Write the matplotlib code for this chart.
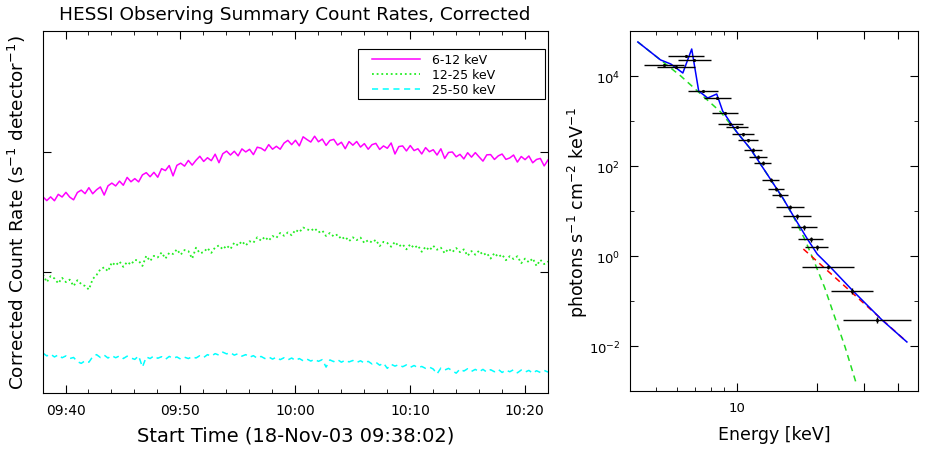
import numpy as np
import pandas as pd
import matplotlib
matplotlib.use("Agg")
import matplotlib.pyplot as plt
import matplotlib.dates as mdates
from matplotlib.patches import Rectangle
from matplotlib.ticker import FixedLocator, FixedFormatter, NullFormatter, NullLocator

# Observing summary count rates, 20 s samples starting 09:38:02
t_start = "2003-11-18 09:38:02"
rate_6_12 = [42.2, 39.3, 42.2, 39.2, 44.3, 42.1, 46.0, 42.0, 39.9, 45.9,
             48.0, 44.9, 50.3, 44.8, 48.3, 51.0, 43.7, 52.1, 54.9, 52.0,
             57.0, 52.7, 61.2, 56.3, 59.8, 56.2, 64.2, 67.0, 62.0, 67.4,
             61.4, 72.3, 69.7, 76.8, 63.0, 77.0, 80.3, 75.9, 84.6, 77.4,
             84.9, 91.6, 83.0, 89.1, 84.2, 95.3, 81.0, 96.1, 101.1, 93.8,
             100.8, 92.3, 105.4, 99.5, 104.6, 94.5, 108.9, 106.9, 101.7, 114.4,
             104.8, 110.8, 104.8, 117.7, 124.1, 114.4, 124.3, 111.7, 132.8, 126.0,
             120.2, 134.3, 120.8, 127.2, 112.7, 123.9, 126.5, 113.5, 119.7, 105.8,
             121.2, 113.2, 121.4, 109.2, 116.6, 104.8, 114.3, 117.2, 104.4, 111.6,
             106.7, 118.0, 95.7, 110.2, 111.6, 101.4, 112.4, 102.1, 105.7, 95.7,
             108.0, 99.9, 103.8, 93.8, 105.6, 87.9, 98.5, 99.4, 90.7, 95.0,
             87.1, 98.0, 90.1, 98.2, 90.4, 83.5, 94.1, 94.6, 86.2, 92.3,
             95.6, 86.3, 88.7, 93.8, 82.0, 91.2, 85.9, 92.1, 80.9, 86.2,
             87.9, 76.2, 85.4]
rate_12_25 = [9.6, 8.3, 9.3, 8.9, 8.1, 9.0, 8.3, 8.7, 7.7, 8.6,
              8.0, 7.7, 7.2, 8.8, 9.5, 10.6, 11.0, 10.2, 12.1, 11.4,
              12.3, 11.1, 12.2, 11.6, 12.7, 12.5, 11.3, 13.7, 12.4, 13.7,
              13.3, 14.6, 13.0, 14.5, 14.2, 15.5, 14.0, 15.3, 15.0, 13.0,
              16.0, 14.4, 14.7, 15.9, 14.5, 16.1, 16.7, 15.5, 16.7, 15.6,
              17.6, 16.7, 18.1, 16.7, 18.1, 17.6, 19.5, 18.3, 19.7, 18.3,
              20.0, 19.3, 21.2, 20.1, 21.4, 20.3, 22.5, 21.5, 23.5, 22.8,
              22.1, 23.2, 21.4, 22.2, 20.0, 21.2, 19.8, 20.6, 18.8, 19.7,
              18.1, 19.5, 18.5, 19.4, 17.5, 18.5, 17.65, 18.6, 16.5, 17.9,
              17.5, 16.3, 17.9, 16.4, 17.1, 15.5, 17.1, 15.9, 16.7, 14.8,
              16.3, 15.2, 16.6, 15.4, 16.0, 14.4, 15.7, 14.7, 15.9, 14.7,
              15.5, 13.7, 15.0, 14.0, 15.15, 13.9, 14.45, 13.0, 14.45, 13.4,
              14.05, 12.6, 13.6, 12.9, 13.6, 11.9, 13.0, 12.1, 13.05, 11.3,
              12.7, 11.7, 12.3]
rate_25_50 = [2.14, 2.03, 2.10, 1.99, 2.07, 1.96, 2.03, 1.93, 1.97, 1.82,
              1.76, 1.85, 1.80, 2.00, 2.08, 1.97, 2.06, 1.95, 2.04, 1.96,
              2.03, 1.93, 2.02, 1.95, 1.90, 2.03, 1.64, 1.99, 1.93, 2.03,
              1.94, 2.00, 1.90, 2.01, 1.94, 1.99, 1.91, 1.98, 1.93, 2.00,
              1.95, 2.04, 1.97, 2.08, 2.02, 2.12, 2.06, 2.18, 2.11, 2.16,
              2.06, 2.12, 2.02, 2.08, 1.98, 2.04, 1.94, 2.01, 1.93, 1.99,
              1.91, 1.98, 1.89, 1.96, 1.88, 1.95, 1.86, 1.93, 1.85, 1.91,
              1.84, 1.90, 1.83, 1.89, 1.64, 1.88, 1.82, 1.89, 1.80, 1.87,
              1.81, 1.86, 1.79, 1.85, 1.77, 1.83, 1.74, 1.80, 1.70, 1.77,
              1.60, 1.73, 1.67, 1.72, 1.65, 1.71, 1.63, 1.69, 1.62, 1.66,
              1.60, 1.64, 1.58, 1.44, 1.61, 1.55, 1.60, 1.53, 1.46, 1.58,
              1.52, 1.59, 1.51, 1.57, 1.50, 1.57, 1.49, 1.56, 1.50, 1.57,
              1.48, 1.55, 1.50, 1.56, 1.47, 1.55, 1.49, 1.54, 1.46, 1.53,
              1.48, 1.54, 1.49]

# Photon spectrum: energy bins (keV) and flux
e_lo = [5.54, 6.03, 4.51, 5.04, 6.57, 7.54, 8.07, 8.50, 9.10, 9.58, 10.09, 10.62, 11.08,
        11.57, 12.49, 13.15, 13.61, 14.08, 14.95, 16.01, 17.0, 18.05, 17.59, 22.56, 25.0]
e_hi = [7.54, 8.01, 6.35, 6.98, 8.50, 9.50, 10.09, 10.53, 10.99, 11.57, 11.97, 12.49, 13.04,
        13.49, 14.45, 15.08, 15.61, 17.89, 19.0, 20.0, 21.06, 21.98, 27.46, 32.3, 44.7]
flux = [27800, 22700, 17550, 15850, 4640, 3245, 1506, 858, 736, 514, 378, 227, 158,
        117, 48.9, 30.8, 22.7, 12.3, 7.74, 4.41, 2.39, 1.58, 0.570, 0.167, 0.0378]
flux_err_frac = [0.06, 0.06, 0.05, 0.05, 0.06, 0.06, 0.07, 0.07, 0.07, 0.08, 0.08, 0.08, 0.09,
                 0.09, 0.10, 0.10, 0.11, 0.11, 0.12, 0.12, 0.13, 0.13, 0.12, 0.14, 0.15]

# Fit components
thermal_e = [4.28, 5.2, 6.19, 7.4, 8.72, 10.0, 11.27, 13.0, 14.95, 16.29, 18.0, 19.67,
             21.3, 22.94, 25.4, 27.93]
thermal_f = [57000, 22800, 10000, 3830, 1585, 575, 239, 66, 18.5, 7.5, 2.3, 0.65,
             0.2, 0.055, 0.0095, 0.0015]
nonthermal_e = [17.75, 43.2]
nonthermal_f = [1.43, 0.0123]
total_e = [4.28, 5.2, 5.68, 6.30, 6.80, 7.22, 7.80, 8.43, 8.87, 10.0, 11.27, 13.0, 14.95,
           16.29, 18.37, 20.0, 22.36, 27.2, 34.9, 43.2]
total_f = [57000, 22800, 18490, 11660, 39800, 4640, 3245, 3981, 1668, 575, 239, 66, 18.5,
           7.74, 2.39, 1.1, 0.57, 0.167, 0.0378, 0.0123]

plt.rcParams["font.family"] = "DejaVu Sans"

fig = plt.figure(figsize=(9.26, 4.52), dpi=100)
ax1 = fig.add_axes([0.0464, 0.1283, 0.5454, 0.8009])
ax2 = fig.add_axes([0.6803, 0.1327, 0.3110, 0.7965])

# --- light curves ---
times = pd.date_range(t_start, periods=len(rate_6_12), freq="20s")
ax1.plot(times, rate_6_12, color="#ff00ff", lw=1.1, label="6-12 keV")
ax1.plot(times, rate_12_25, color="#22ee22", lw=1.3, linestyle=(0, (1, 1.6)), label="12-25 keV")
ax1.plot(times, rate_25_50, color="#00ffff", lw=1.1, linestyle=(0, (4, 3)), label="25-50 keV")

ax1.set_yscale("log")
ax1.set_ylim(1, 1000)
ax1.yaxis.set_major_locator(FixedLocator([10, 100]))
ax1.yaxis.set_minor_locator(NullLocator())
ax1.yaxis.set_major_formatter(NullFormatter())
ax1.set_xlim(times[0], times[0] + pd.Timedelta(seconds=2640))
ax1.xaxis.set_major_locator(mdates.MinuteLocator(byminute=range(0, 60, 10)))
ax1.xaxis.set_minor_locator(mdates.MinuteLocator(byminute=range(0, 60, 2)))
ax1.xaxis.set_major_formatter(mdates.DateFormatter("%H:%M"))
ax1.tick_params(which="both", direction="in", top=True, right=True, labelsize=10, pad=7)
ax1.tick_params(which="major", length=6)
ax1.tick_params(which="minor", length=3)
ax1.set_xlabel("Start Time (18-Nov-03 09:38:02)", fontsize=14, labelpad=6)
ax1.set_ylabel(r"Corrected Count Rate (s$^{-1}$ detector$^{-1}$)", fontsize=13.3)
ax1.yaxis.set_label_coords(-0.030, 0.5)
fig.text(0.3186, 1 - 15 / 452, "HESSI Observing Summary Count Rates, Corrected",
         ha="center", va="center", fontsize=13.3)

# legend entries without their own frame, boxed separately
leg = ax1.legend(loc="upper left", bbox_to_anchor=(0.6515, 0.938), frameon=False,
                 fontsize=9, handlelength=3.8, handletextpad=1.0, borderpad=0,
                 labelspacing=0.15, borderaxespad=0)
ax1.add_patch(Rectangle((0.6238, 0.812), 0.370, 0.138, transform=ax1.transAxes,
                        fill=False, edgecolor="black", lw=0.8, zorder=5))

# --- spectrum ---
e_lo = np.array(e_lo)
e_hi = np.array(e_hi)
flux = np.array(flux)
e_mid = np.sqrt(e_lo * e_hi)
ax2.plot(thermal_e, thermal_f, color="#22dd22", lw=1.1, linestyle=(0, (4, 3)), zorder=2)
ax2.plot(nonthermal_e, nonthermal_f, color="red", lw=1.1, linestyle=(0, (4, 3)), zorder=2)
ax2.plot(total_e, total_f, color="blue", lw=1.1, zorder=3)
ax2.errorbar(e_mid, flux, xerr=[e_mid - e_lo, e_hi - e_mid],
             yerr=flux * np.array(flux_err_frac), fmt=".", ms=2.5, color="black",
             elinewidth=1.0, capsize=0, zorder=4)

ax2.set_xscale("log")
ax2.set_yscale("log")
ax2.set_xlim(4.0, 47.5)
ax2.set_ylim(1e-3, 1e5)
ax2.xaxis.set_major_locator(FixedLocator([10, 20, 30, 40]))
ax2.xaxis.set_major_formatter(FixedFormatter(["10", "", "", ""]))
ax2.xaxis.set_minor_locator(FixedLocator([5, 6, 7, 8, 9]))
ax2.xaxis.set_minor_formatter(NullFormatter())
ax2.yaxis.set_major_locator(FixedLocator([1e-2, 1, 1e2, 1e4]))
ax2.yaxis.set_minor_locator(FixedLocator([1e-3, 1e-1, 10, 1e3, 1e5]))
ax2.yaxis.set_minor_formatter(NullFormatter())
ax2.tick_params(which="both", direction="in", top=True, right=True, labelsize=9.5, pad=7)
ax2.tick_params(which="major", length=6)
ax2.tick_params(which="minor", length=3)
ax2.set_xlabel("Energy [keV]", fontsize=12.5, labelpad=8)
ax2.set_ylabel(r"photons s$^{-1}$ cm$^{-2}$ keV$^{-1}$", fontsize=12.5)
ax2.yaxis.set_label_coords(-0.139, 0.5)

fig.savefig("out.png", dpi=100)
